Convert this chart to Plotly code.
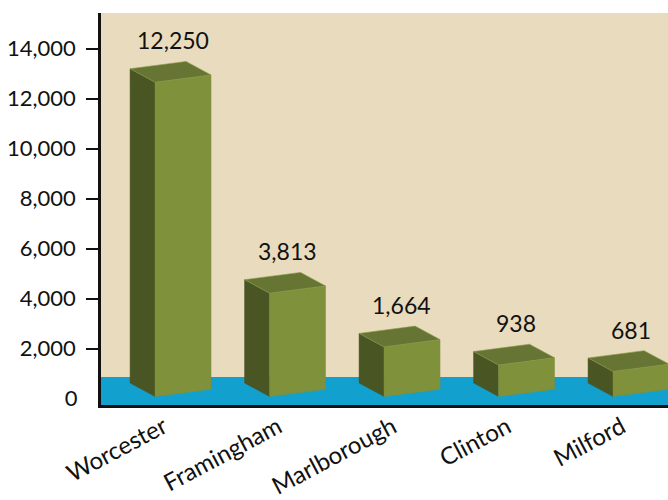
import plotly.graph_objects as go

# ---- data ----
towns = ["Worcester", "Framingham", "Marlborough", "Clinton", "Milford"]
values = [12250, 3813, 1664, 938, 681]
value_labels = ["12,250", "3,813", "1,664", "938", "681"]
ytick_vals = [2000, 4000, 6000, 8000, 10000, 12000, 14000]
ytick_text = ["2,000", "4,000", "6,000", "8,000", "10,000", "12,000", "14,000"]

# ---- styling / pseudo-3D geometry (data units) ----
FRONT = "#7F913B"
SIDE = "#4A5524"
TOP = "#677534"
BEIGE = "#E9DBBD"
BLUE = "#12A0CE"
FONT = "Lato"

fw = 0.489      # front face width (x units)
fl = -0.135     # front-left offset from category position
dx = -0.218     # depth offset x
dy = 540        # depth offset y
skew = 292      # right edge higher than left edge
base = 80       # front-left bottom
pad = 400       # visual top offset

fig = go.Figure()

for i, v in enumerate(values):
    x0 = i + fl
    b = base
    t = v + pad
    # left side
    fig.add_trace(go.Scatter(
        x=[x0, x0, x0 + dx, x0 + dx, x0],
        y=[b, t, t + dy, b + dy, b],
        fill="toself", fillcolor=SIDE, mode="lines",
        line=dict(color=SIDE, width=0.5), hoverinfo="skip", showlegend=False))
    # front face
    fig.add_trace(go.Scatter(
        x=[x0, x0 + fw, x0 + fw, x0, x0],
        y=[b, b + skew, t + skew, t, b],
        fill="toself", fillcolor=FRONT, mode="lines",
        line=dict(color=FRONT, width=0.5), hoverinfo="skip", showlegend=False))
    # top face
    fig.add_trace(go.Scatter(
        x=[x0, x0 + fw, x0 + fw + dx, x0 + dx, x0],
        y=[t, t + skew, t + skew + dy, t + dy, t],
        fill="toself", fillcolor=TOP, mode="lines",
        line=dict(color="#8A9C48", width=0.6), hoverinfo="skip", showlegend=False))
    fig.add_annotation(
        x=i + 0.02, y=t + skew + dy, text=value_labels[i], showarrow=False,
        xanchor="center", yanchor="bottom", yshift=5,
        font=dict(family=FONT, size=23, color="#111111"))

# invisible trace for the zero-label axis
fig.add_trace(go.Scatter(x=[0], y=[0], yaxis="y2", mode="markers",
                         marker=dict(opacity=0), hoverinfo="skip", showlegend=False))

# blue floor band
fig.add_shape(type="rect", xref="paper", x0=0, x1=1, yref="y", y0=-260, y1=860,
              fillcolor=BLUE, line=dict(width=0), layer="below")

yrange = [-260, 15420]
label_pos = [i - 0.06 for i in range(len(towns))]
fig.update_layout(
    width=668, height=500,
    margin=dict(l=101, r=0, t=13, b=95),
    paper_bgcolor="white", plot_bgcolor=BEIGE,
    font=dict(family=FONT, size=23, color="#111111"),
    xaxis=dict(range=[-0.607, 4.345], tickvals=label_pos, ticktext=towns,
               tickangle=-28, showgrid=False, zeroline=False, showline=True,
               linecolor="#111111", linewidth=2.5, ticks="", ticklabelstandoff=-4,
               automargin=False,
               tickfont=dict(family=FONT, size=24, color="#111111"), fixedrange=True),
    yaxis=dict(range=yrange, tickvals=ytick_vals, ticktext=ytick_text,
               showgrid=False, zeroline=False, showline=True, linecolor="#111111",
               linewidth=2.5, ticks="outside", ticklen=12, tickwidth=2, tickcolor="#111111",
               ticklabelstandoff=6, automargin=False,
               tickfont=dict(family=FONT, size=22, color="#111111")),
    yaxis2=dict(range=yrange, overlaying="y", side="left", tickvals=[0], ticktext=["0"],
                showgrid=False, zeroline=False, showline=False, ticks="outside",
                ticklen=12, tickcolor="rgba(0,0,0,0)", ticklabelstandoff=6,
                automargin=False,
                tickfont=dict(family=FONT, size=22, color="#111111")),
)

fig.write_html("out.html")
